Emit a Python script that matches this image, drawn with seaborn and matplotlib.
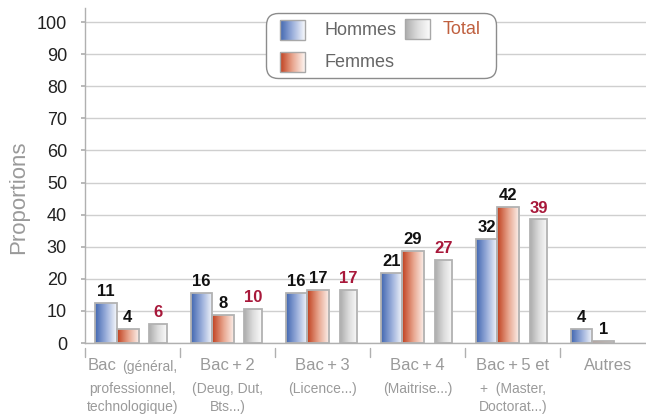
import numpy as np
import pandas as pd
import matplotlib
matplotlib.use("Agg")
import matplotlib.pyplot as plt
import seaborn as sns
from matplotlib.patches import FancyBboxPatch, Rectangle
from matplotlib.colors import LinearSegmentedColormap

# ---- data ----
categories = ["Bac", "Bac+2", "Bac+3", "Bac+4", "Bac+5", "Autres"]
series = ["Hommes", "Femmes", "Total"]
hommes = [12.4, 15.7, 15.7, 21.9, 32.5, 4.4]
femmes = [4.4, 8.7, 16.6, 28.6, 42.3, 0.7]
total = [5.9, 10.6, 16.6, 25.9, 38.5, 0.0]
hommes_labels = ["11", "16", "16", "21", "32", "4"]
femmes_labels = ["4", "8", "17", "29", "42", "1"]
total_labels = ["6", "10", "17", "27", "39", ""]
main_labels = ["Bac", "Bac\u2009+\u20092", "Bac\u2009+\u20093", "Bac\u2009+\u20094",
               "Bac\u2009+\u20095 et", "Autres"]
sub_labels = ["professionnel,\ntechnologique)", "(Deug, Dut,\nBts...)", "(Licence...)",
              "(Maitrise...)", "+  (Master,\nDoctorat...)", ""]
yticks = [0, 10, 20, 30, 40, 50, 60, 70, 80, 90, 100]

df = pd.DataFrame({
    "cat": np.repeat(categories, 3),
    "serie": series * len(categories),
    "val": np.ravel(np.column_stack([hommes, femmes, total])),
})

sns.set_theme(style="white")
plt.rcParams["font.family"] = ["Liberation Sans", "DejaVu Sans"]
NARROW = ["Liberation Sans Narrow", "Liberation Sans", "DejaVu Sans"]

W, H = 646, 416
fig = plt.figure(figsize=(W / 100, H / 100), dpi=100)
ax_l, ax_b, ax_r, ax_t = 85, 343, 646, 8
ax = fig.add_axes([ax_l / W, 1 - ax_b / H, (ax_r - ax_l) / W, (ax_b - ax_t) / H])

sns.barplot(data=df, x="cat", y="val", hue="serie", order=categories,
            hue_order=series, ax=ax, legend=False, width=0.8,
            palette=["#4a6fb5", "#c44a28", "#b5b5b5"])

# bar layout and gradients
geom = {"Hommes": (-0.39, 0.223), "Femmes": (-0.167, 0.233), "Total": (0.177, 0.183)}
cmaps = {
    "Hommes": LinearSegmentedColormap.from_list("h", ["#4267b0", "#9bafdb", "#f6f8fc"]),
    "Femmes": LinearSegmentedColormap.from_list("f", ["#c0401f", "#e8a58e", "#fdf5f1"]),
    "Total": LinearSegmentedColormap.from_list("t", ["#acacac", "#dcdcdc", "#fbfbfb"]),
}
label_sets = {"Hommes": hommes_labels, "Femmes": femmes_labels, "Total": total_labels}
label_colors = {"Hommes": "#111111", "Femmes": "#111111", "Total": "#a8183a"}
grad = np.linspace(0, 1, 64).reshape(1, -1)
for cont, s in zip(ax.containers, series):
    off, w = geom[s]
    for i, patch in enumerate(cont.patches):
        h = patch.get_height()
        x0 = i + off
        patch.set_x(x0)
        patch.set_width(w)
        patch.set_facecolor("none")
        patch.set_edgecolor("#b2b2b2")
        patch.set_linewidth(1.3)
        patch.set_zorder(3)
        if h > 0:
            im = ax.imshow(grad, cmap=cmaps[s], aspect="auto",
                           extent=[x0, x0 + w, 0, h], zorder=2.5)
            im.set_clip_path(patch)
        else:
            patch.set_visible(False)
        lab = label_sets[s][i]
        if lab:
            ax.text(x0 + w / 2, h + 1.2, lab, ha="center", va="bottom",
                    fontsize=12, fontweight="bold", color=label_colors[s],
                    family=NARROW, zorder=5)

ax.set_xlim(-0.5, 5.4)
ax.set_ylim(0, 104.4)

# grid and spines
ax.set_yticks(yticks)
ax.set_yticklabels([str(t) for t in yticks], fontsize=13, color="#222222")
ax.yaxis.grid(True, color="#cfcfcf", linewidth=1.0, zorder=0)
ax.set_axisbelow(True)
for sp in ["top", "right"]:
    ax.spines[sp].set_visible(False)
ax.spines["left"].set_color("#b0b0b0")
ax.spines["bottom"].set_color("#b0b0b0")
ax.spines["left"].set_linewidth(1.0)
ax.spines["bottom"].set_linewidth(1.0)
ax.tick_params(axis="y", length=3, color="#b0b0b0", pad=10, left=True)
ax.set_xticks([])
ax.set_xlabel("")
ax.set_ylabel("Proportions", fontsize=16, color="#9a9a9a")
ax.yaxis.set_label_coords(-0.100, 0.436)

# category separator ticks below the axis
for b in np.arange(-0.5, 5.5, 1.0):
    ax.plot([b, b], [-1.5, -4.5], color="#b0b0b0", lw=1.0, clip_on=False)

# x labels
main_fs, sub_fs = 12, 10
gray = "#9a9a9a"
for i, (m, sub) in enumerate(zip(main_labels, sub_labels)):
    if i == 0:
        ax.text(i - 0.17, -4.6, m, ha="right", va="top", fontsize=main_fs,
                color=gray, family=NARROW, clip_on=False)
        ax.text(i - 0.11, -5.3, "(général,", ha="left", va="top", fontsize=sub_fs,
                color=gray, family=NARROW, clip_on=False)
        ax.text(i, -12.3, sub, ha="center", va="top", fontsize=sub_fs,
                color=gray, family=NARROW, clip_on=False, linespacing=1.3)
    else:
        ax.text(i, -4.6, m, ha="center", va="top", fontsize=main_fs,
                color=gray, family=NARROW, clip_on=False)
        if sub:
            ax.text(i, -12.3, sub, ha="center", va="top", fontsize=sub_fs,
                    color=gray, family=NARROW, clip_on=False, linespacing=1.3)

# legend (manual, gradient swatches)
lx0, ly0, lw_, lh_ = 265, 12, 233, 68
lax = fig.add_axes([lx0 / W, 1 - (ly0 + lh_) / H, lw_ / W, lh_ / H])
lax.axis("off")
lax.add_patch(FancyBboxPatch((1.5, 1.5), lw_ - 3, lh_ - 3,
                             boxstyle="round,pad=0,rounding_size=12",
                             facecolor="white", edgecolor="#8c8c8c", lw=1.0))
sw = [("Hommes", 15, 8, "#666666", 60), ("Femmes", 15, 40, "#666666", 60),
      ("Total", 140, 7, "#c0603f", 178)]
for s, sx, sy, tc, tx in sw:
    lax.imshow(grad, cmap=cmaps[s], aspect="auto",
               extent=[sx, sx + 25, sy + 20, sy], zorder=2)
    lax.add_patch(Rectangle((sx, sy), 25, 20, facecolor="none",
                            edgecolor="#a8a8a8", lw=1.0, zorder=3))
    lax.text(tx, sy + 10.5, s, ha="left", va="center",
             fontsize=13, color=tc, family=NARROW)
lax.set_xlim(0, lw_)
lax.set_ylim(lh_, 0)

fig.savefig("out.png", dpi=100)
